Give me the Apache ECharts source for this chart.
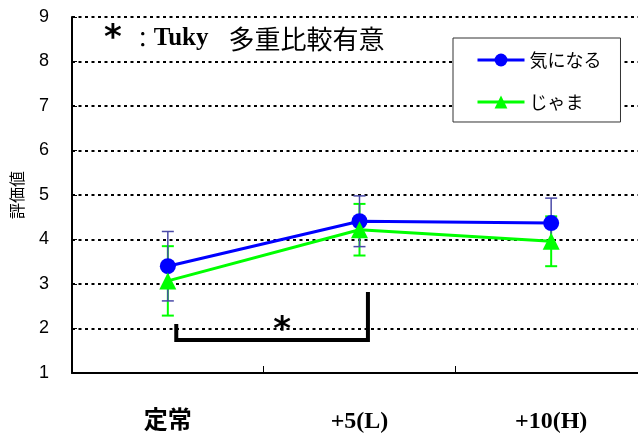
<!DOCTYPE html>
<html>
<head>
<meta charset="utf-8">
<script src="https://cdn.jsdelivr.net/npm/echarts@6/dist/echarts.min.js"></script>
<style>
  html, body { margin: 0; padding: 0; background: #fff; }
  #chart { width: 638px; height: 435px; }
</style>
</head>
<body>
<div id="chart"></div>
<script>
// Rating means and standard deviations for each condition
const categories = ['定常', '+5(L)', '+10(H)'];
const seriesNames = ['気になる', 'じゃま'];
const kiniMean = [3.40, 4.41, 4.37];
const kiniSd   = [0.78, 0.57, 0.56];
const jamaMean = [3.07, 4.22, 3.96];
const jamaSd   = [0.78, 0.58, 0.56];

// Significance bracket between 定常 and +5(L): left end, bar, right end levels
const bracketCats = [0, 1];
const bracketLevels = [2.10, 1.74, 2.82];
const yAxisName = '評価値';

const BLUE = '#0000ff';
const GREEN = '#00ff00';

function errorData(mean, sd) {
  return mean.map((m, i) => [i, m - sd[i], m + sd[i]]);
}

function errorRender(color, width, cap) {
  return function (params, api) {
    const i = api.value(0);
    const top = api.coord([i, api.value(2)]);
    const bot = api.coord([i, api.value(1)]);
    const x = top[0];
    const st = { stroke: color, lineWidth: width };
    return {
      type: 'group',
      children: [
        { type: 'line', shape: { x1: x, y1: top[1], x2: x, y2: bot[1] }, style: st },
        { type: 'line', shape: { x1: x - cap, y1: top[1], x2: x + cap, y2: top[1] }, style: st },
        { type: 'line', shape: { x1: x - cap, y1: bot[1], x2: x + cap, y2: bot[1] }, style: st }
      ]
    };
  };
}

function bracketRender(params, api) {
  const band = api.size([1, 0])[0];
  const off = band * 0.044;
  const xl = api.coord([bracketCats[0], bracketLevels[0]])[0] + off;
  const xr = api.coord([bracketCats[1], bracketLevels[2]])[0] + off;
  const yl = api.coord([bracketCats[0], bracketLevels[0]])[1];
  const yb = api.coord([bracketCats[0], bracketLevels[1]])[1];
  const yr = api.coord([bracketCats[1], bracketLevels[2]])[1];
  return {
    type: 'group',
    children: [
      {
        type: 'polyline',
        shape: { points: [[xl, yl], [xl, yb], [xr, yb], [xr, yr]] },
        style: { stroke: '#000', lineWidth: 4, fill: null, lineJoin: 'miter' }
      },
      {
        type: 'text',
        x: (xl + xr) / 2 + 10,
        y: yb - 9,
        style: {
          text: '*', fill: '#000', font: 'bold 34px "DejaVu Sans"',
          align: 'center', verticalAlign: 'middle'
        }
      }
    ]
  };
}

const chart = echarts.init(document.getElementById('chart'), null, { renderer: 'canvas' });

chart.setOption({
  animation: false,
  backgroundColor: '#fff',
  grid: { left: 72, right: -9, top: 17, bottom: 62, containLabel: false, outerBoundsMode: 'none' },
  legend: {
    orient: 'vertical',
    left: 453,
    top: 38,
    itemWidth: 47,
    itemHeight: 16,
    itemGap: 24,
    padding: [13, 19, 11, 23],
    borderColor: '#333',
    borderWidth: 1,
    borderRadius: 0,
    backgroundColor: '#fff',
    lineStyle: { width: 3 },
    textStyle: { fontSize: 18, fontFamily: '"Noto Sans CJK JP"', color: '#000' },
    data: seriesNames
  },
  xAxis: {
    type: 'category',
    data: categories,
    boundaryGap: true,
    axisLine: { lineStyle: { color: '#000', width: 2 } },
    axisTick: { show: true, inside: true, length: 7, lineStyle: { color: '#000', width: 1 } },
    axisLabel: {
      color: '#000', fontSize: 24, fontWeight: 'bold', margin: 37,
      fontFamily: '"Liberation Serif", "Noto Sans CJK JP"'
    },
    splitLine: { show: false }
  },
  yAxis: {
    type: 'value',
    min: 1,
    max: 9,
    interval: 1,
    name: yAxisName,
    nameLocation: 'middle',
    nameRotate: 90,
    nameGap: 47,
    nameTextStyle: { fontSize: 16, color: '#000', fontFamily: '"Noto Sans CJK JP"' },
    axisLine: { show: true, lineStyle: { color: '#000', width: 2 } },
    axisTick: { show: true, inside: true, length: 5, lineStyle: { color: '#000', width: 1 } },
    axisLabel: { color: '#000', fontSize: 18, margin: 23, fontFamily: '"Liberation Sans"' },
    splitLine: { show: true, lineStyle: { color: '#000', width: 2, type: [3, 3.5] } }
  },
  graphic: [
    {
      type: 'text',
      left: 104,
      top: 22,
      z: 100,
      style: {
        text: '{s|*}{c|：}{t|Tuky}{j|多重比較有意}',
        rich: {
          s: { font: 'bold 34px "DejaVu Sans"', fill: '#000', padding: [0, 10, 0, 0] },
          c: { font: '22px "Noto Sans CJK JP"', fill: '#000' },
          t: { font: 'bold 25px "Liberation Serif"', fill: '#000', padding: [0, 20, 0, 0] },
          j: { font: '26px "Noto Sans CJK JP"', fill: '#000' }
        }
      }
    }
  ],
  series: [
    {
      type: 'custom',
      name: 'err-jama',
      renderItem: errorRender(GREEN, 2, 6),
      data: errorData(jamaMean, jamaSd),
      encode: { x: 0, y: [1, 2] },
      z: 1,
      silent: true
    },
    {
      type: 'custom',
      name: 'err-kini',
      renderItem: errorRender('#4b4ba8', 1.5, 6),
      data: errorData(kiniMean, kiniSd),
      encode: { x: 0, y: [1, 2] },
      z: 2,
      silent: true
    },
    {
      type: 'line',
      name: seriesNames[0],
      data: kiniMean,
      symbol: 'circle',
      symbolSize: 16,
      lineStyle: { color: BLUE, width: 3 },
      itemStyle: { color: BLUE },
      z: 3
    },
    {
      type: 'line',
      name: seriesNames[1],
      data: jamaMean,
      symbol: 'triangle',
      symbolSize: 17,
      lineStyle: { color: GREEN, width: 3 },
      itemStyle: { color: GREEN },
      z: 4
    },
    {
      type: 'custom',
      name: 'bracket',
      renderItem: bracketRender,
      data: [[0, 0]],
      z: 5,
      silent: true
    }
  ]
});
</script>
</body>
</html>
